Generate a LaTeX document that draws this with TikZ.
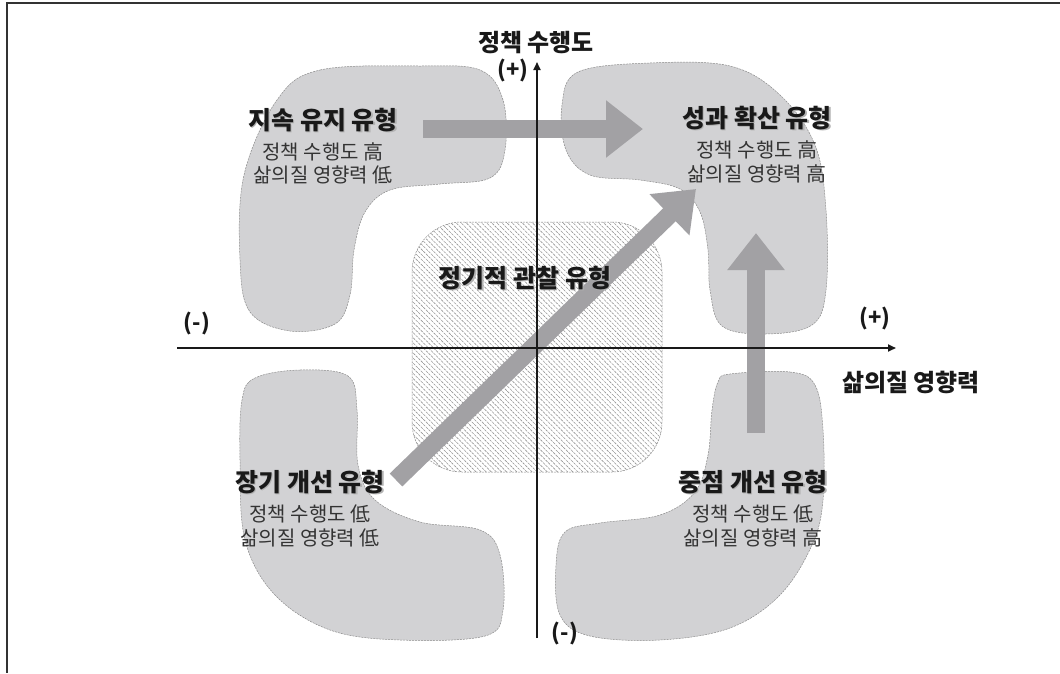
\documentclass[tikz,border=0pt]{standalone}
\usepackage{fontspec}
\setmainfont{Noto Sans CJK KR}
\usetikzlibrary{arrows.meta,patterns.meta}
\definecolor{blobfill}{HTML}{D2D2D4}
\definecolor{blobline}{HTML}{8C8C8C}
\definecolor{arrowgray}{HTML}{A2A1A4}
\definecolor{subtext}{HTML}{333333}
\definecolor{framecol}{HTML}{333333}
\begin{document}
\begin{tikzpicture}[x=1pt,y=-1pt,
 blob/.style={fill=blobfill, draw=blobline, line width=0.5pt, dash pattern=on 2pt off 1pt},
 hatchbox/.style={draw=blobline, line width=0.5pt, dash pattern=on 2pt off 1pt, pattern={Lines[angle=-45,distance=3.6pt,line width=0.6pt]}, pattern color=gray!85, rounded corners=50pt, minimum width=250pt, minimum height=250pt, inner sep=0pt},
 bigarrow/.style={draw=arrowgray, line width=18pt, -{Triangle[length=37pt,width=55pt]}},
 axisline/.style={draw=black!90, line width=1.8pt, -{Triangle[length=8pt,width=7pt]}},
 title/.style={font=\bfseries\fontsize{25}{29}\selectfont, text=black!90, inner sep=0pt},
 shadowtitle/.style={title, text=black!30},
 sub/.style={font=\fontsize{20}{24}\selectfont, text=subtext, inner sep=0pt},
 axlabel/.style={font=\bfseries\fontsize{24}{28}\selectfont, text=black!90, inner sep=0pt},
 sign/.style={font=\bfseries\fontsize{22}{26}\selectfont, text=black!90, inner sep=0pt},
 frameline/.style={draw=framecol, line width=2pt}
]
\path[use as bounding box] (0,0) rectangle (1060,673);
% frame
\coordinate (fTR) at (1060,3);
\coordinate (fTL) at (7,3);
\coordinate (fBL) at (7,673);
\draw[frameline] (fTR) -- (fTL) -- (fBL);
% blobs
\draw[blob] plot[smooth cycle, tension=0.6] coordinates {(277,100) (320,70) (420,66) (480,70) (503,100) (505,150) (490,178) (440,184) (390,190) (365,212) (354,250) (350,295) (335,324) (290,331) (250,312) (240,260) (244,175)};
\draw[blob] plot[smooth cycle, tension=0.6] coordinates {(578,72) (650,63) (730,66) (780,95) (815,145) (826,210) (826,290) (812,325) (765,334) (722,326) (710,290) (708,250) (700,212) (680,189) (640,180) (590,175) (566,150) (562,105)};
\draw[blob] plot[smooth cycle, tension=0.6] coordinates {(255,378) (300,370) (348,376) (357,410) (358,465) (375,500) (420,522) (480,530) (500,555) (503,610) (485,636) (400,640) (330,630) (275,595) (245,540) (240,460) (242,400)};
\draw[blob] plot[smooth cycle, tension=0.6] coordinates {(730,374) (790,372) (815,385) (823,430) (823,500) (812,545) (780,595) (730,628) (660,640) (590,636) (560,615) (556,565) (565,532) (600,523) (660,515) (695,492) (708,455) (712,410) (718,382)};
% hatched centre
\node[hatchbox] (hub) at (537,347) {};
% arrows
\coordinate (a1s) at (423,129);
\coordinate (a1e) at (643,129);
\coordinate (a2s) at (396,480);
\coordinate (a2e) at (696,189);
\coordinate (a3s) at (756,433);
\coordinate (a3e) at (756,233);
\draw[bigarrow] (a1s) -- (a1e);
\draw[bigarrow] (a2s) -- (a2e);
\draw[bigarrow] (a3s) -- (a3e);
% axes
\coordinate (yb) at (537,638);
\coordinate (yt) at (537,62);
\coordinate (xl) at (177,348);
\coordinate (xr) at (896,348);
\draw[axisline] (yb) -- (yt);
\draw[axisline] (xl) -- (xr);
% axis labels
\node[axlabel] (ylab) at (536,43) {정책 수행도};
\node[sign] (yplus) at (513,70) {(+)};
\node[sign] (xminus) at (197,323) {(-)};
\node[sign] (xplus) at (875,318) {(+)};
\node[axlabel] (xlab) at (911,382) {삶의질 영향력};
\node[sign] (yminus) at (565,633) {(-)};
% titles with shadows
\node[shadowtitle] (t1s) at (324.3,121.3) {지속 유지 유형};
\node[title] (t1) at (323,120) {지속 유지 유형};
\node[sub] (s1a) at (323,152) {정책 수행도 高};
\node[sub] (s1b) at (323,175) {삶의질 영향력 低};
\node[shadowtitle] (t2s) at (758.3,119.3) {성과 확산 유형};
\node[title] (t2) at (757,118) {성과 확산 유형};
\node[sub] (s2a) at (757,150) {정책 수행도 高};
\node[sub] (s2b) at (757,174) {삶의질 영향력 高};
\node[shadowtitle] (t3s) at (526.3,279.3) {정기적 관찰 유형};
\node[title] (t3) at (525,278) {정기적 관찰 유형};
\node[shadowtitle] (t4s) at (311.3,483.3) {장기 개선 유형};
\node[title] (t4) at (310,482) {장기 개선 유형};
\node[sub] (s4a) at (310,514) {정책 수행도 低};
\node[sub] (s4b) at (310,538) {삶의질 영향력 低};
\node[shadowtitle] (t5s) at (754.3,483.3) {중점 개선 유형};
\node[title] (t5) at (753,482) {중점 개선 유형};
\node[sub] (s5a) at (753,514) {정책 수행도 低};
\node[sub] (s5b) at (753,538) {삶의질 영향력 高};
\end{tikzpicture}
\end{document}
